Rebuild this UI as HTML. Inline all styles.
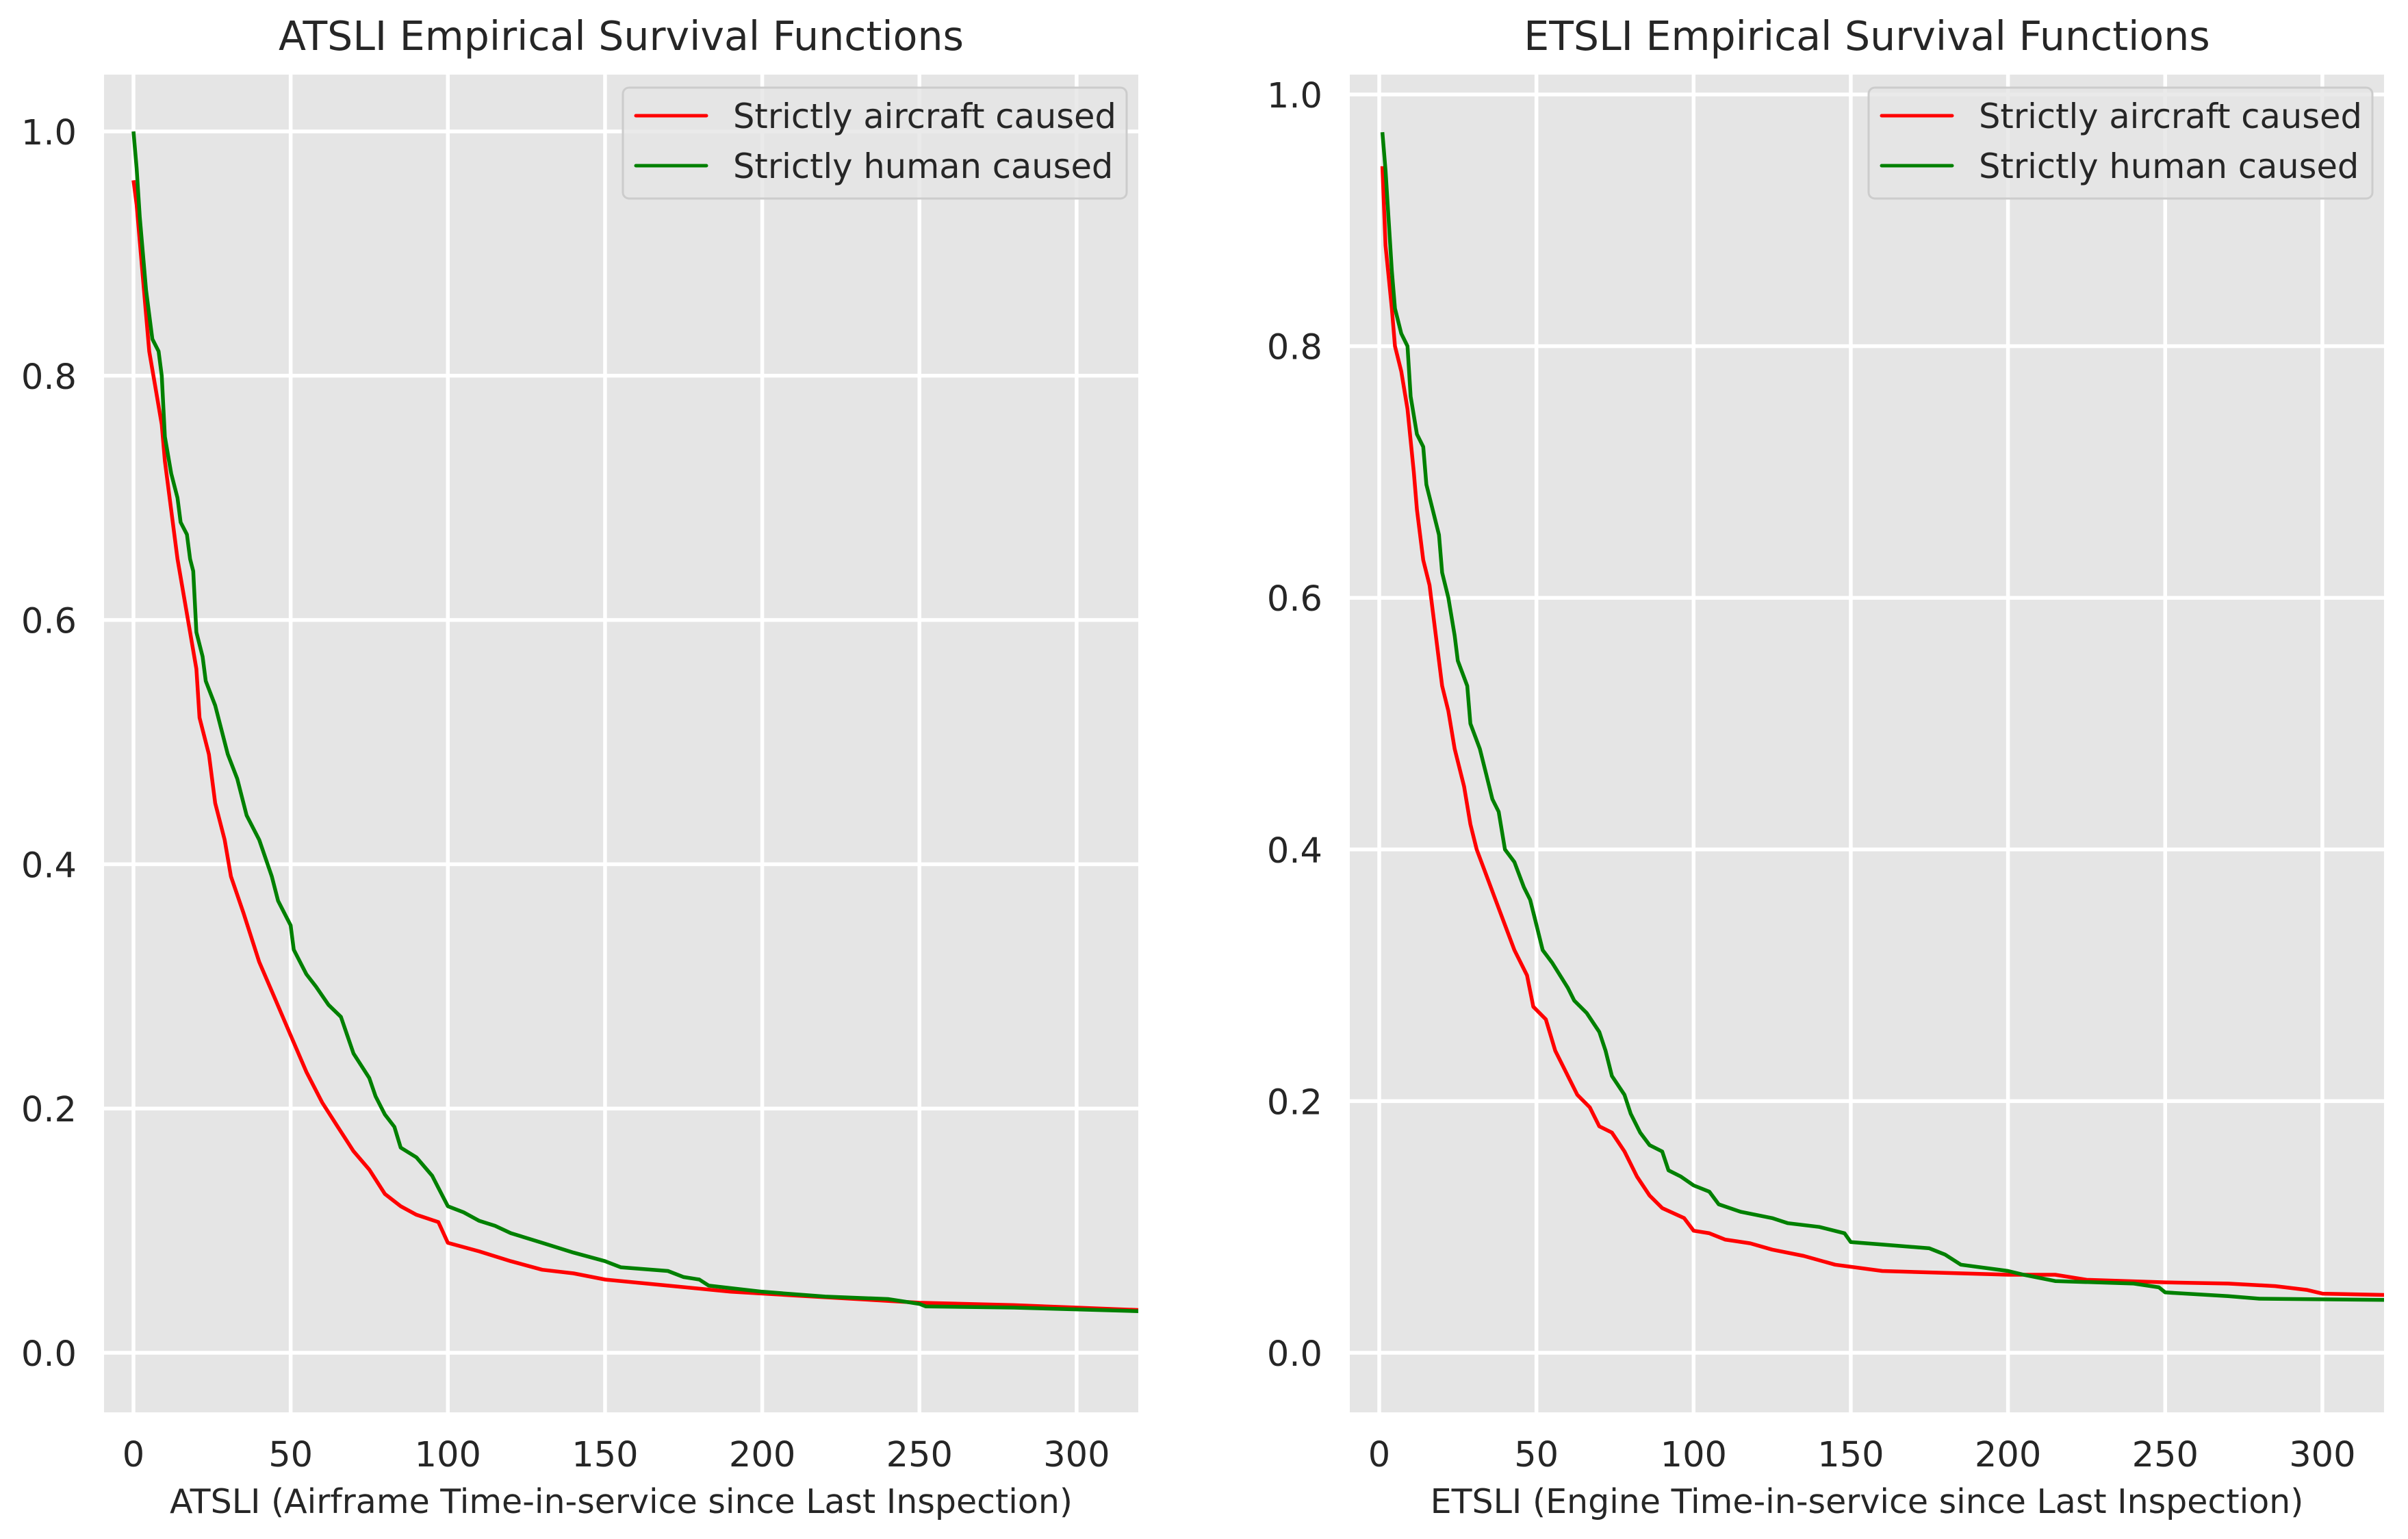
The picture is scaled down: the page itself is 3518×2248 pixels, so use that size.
<!DOCTYPE html>
<html><head><meta charset="utf-8"><style>
html,body{margin:0;padding:0;background:#fff;}
svg{display:block;font-family:"DejaVu Sans","Liberation Sans",sans-serif;}
</style></head><body>
<svg id="fig" width="3518" height="2248" viewBox="0 0 3518 2248" xmlns="http://www.w3.org/2000/svg"></svg>
<script>
const xTicks=[0,50,100,150,200,250,300];
const yTicks=[0.0,0.2,0.4,0.6,0.8,1.0];
const yTickLabels=["0.0","0.2","0.4","0.6","0.8","1.0"];
const seriesNames=["Strictly aircraft caused","Strictly human caused"];
const atsliRedX=[0,1,2,3,4,5,7,9,10,12,14,16,18,20,21,24,26,29,31,35,40,45,50,55,60,65,70,75,80,85,90,97,100,110,120,130,140,150,170,190,210,230,250,280,300,320];
const atsliRedY=[0.96,0.94,0.91,0.88,0.85,0.82,0.79,0.76,0.73,0.69,0.65,0.62,0.59,0.56,0.52,0.49,0.45,0.42,0.39,0.36,0.32,0.29,0.26,0.23,0.205,0.185,0.165,0.15,0.13,0.12,0.113,0.107,0.09,0.083,0.075,0.068,0.065,0.06,0.055,0.05,0.047,0.044,0.041,0.039,0.037,0.035];
const atsliGreenX=[0,1,2,3,4,5,6,8,9,10,12,14,15,17,18,19,20,22,23,26,28,30,33,36,40,44,46,50,51,55,58,62,66,68,70,75,77,80,83,85,90,95,100,105,110,115,120,130,140,150,155,170,175,180,183,200,220,240,250,252,280,320];
const atsliGreenY=[1.0,0.97,0.93,0.9,0.87,0.85,0.83,0.82,0.8,0.75,0.72,0.7,0.68,0.67,0.65,0.64,0.59,0.57,0.55,0.53,0.51,0.49,0.47,0.44,0.42,0.39,0.37,0.35,0.33,0.31,0.3,0.285,0.275,0.26,0.245,0.225,0.21,0.195,0.185,0.168,0.16,0.145,0.12,0.115,0.108,0.104,0.098,0.09,0.082,0.075,0.07,0.067,0.062,0.06,0.055,0.05,0.046,0.044,0.04,0.038,0.037,0.034];
const etsliRedX=[1,2,4,5,7,9,11,12,14,16,18,20,22,24,27,29,31,34,37,40,43,47,49,53,56,60,63,67,70,74,78,82,86,90,97,100,105,110,118,125,135,145,160,200,215,225,250,270,285,295,300,320];
const etsliRedY=[0.943,0.88,0.83,0.8,0.78,0.75,0.7,0.67,0.63,0.61,0.57,0.53,0.51,0.48,0.45,0.42,0.4,0.38,0.36,0.34,0.32,0.3,0.275,0.265,0.24,0.22,0.205,0.195,0.18,0.175,0.16,0.14,0.125,0.115,0.107,0.097,0.095,0.09,0.087,0.082,0.077,0.07,0.065,0.062,0.062,0.058,0.056,0.055,0.053,0.05,0.047,0.046];
const etsliGreenX=[1,2,3,4,5,7,9,10,12,14,15,17,19,20,22,24,25,28,29,32,34,36,38,40,43,46,48,50,52,55,60,62,66,70,72,74,78,80,83,86,90,92,96,100,105,108,115,125,130,140,148,150,160,175,180,185,200,205,215,240,248,250,270,280,320];
const etsliGreenY=[0.97,0.94,0.9,0.86,0.83,0.81,0.8,0.76,0.73,0.72,0.69,0.67,0.65,0.62,0.6,0.57,0.55,0.53,0.5,0.48,0.46,0.44,0.43,0.4,0.39,0.37,0.36,0.34,0.32,0.31,0.29,0.28,0.27,0.255,0.24,0.22,0.205,0.19,0.175,0.165,0.16,0.145,0.14,0.133,0.128,0.118,0.112,0.107,0.103,0.1,0.095,0.088,0.086,0.083,0.078,0.07,0.065,0.062,0.057,0.055,0.052,0.048,0.045,0.043,0.042];

const NS="http://www.w3.org/2000/svg";
const svg=document.getElementById('fig');
function mk(tag,attrs,parent){const e=document.createElementNS(NS,tag);for(const k in attrs)e.setAttribute(k,attrs[k]);(parent||svg).appendChild(e);return e;}

function panel(cfg){
  const g=mk('g',{});
  
  
  const xs=v=>cfg.x0+v*4.593;
  const ys=v=>cfg.y0-v*(cfg.y0-cfg.y1);
  const bg=mk('rect',{x:cfg.left,y:109,width:cfg.right-cfg.left,height:2063-109,fill:'#e5e5e5'},g);
  
  
  const clipId='clip-'+cfg.name;
  const cp=mk('clipPath',{id:clipId},g);
  mk('rect',{x:cfg.left,y:109,width:cfg.right-cfg.left,height:2063-109},cp);
  xTicks.forEach(t=>{
    const l=mk('line',{x1:xs(t),x2:xs(t),y1:109,y2:2063,stroke:'#fff','stroke-width':5.5},g);
    
    
    const tx=mk('text',{x:xs(t),y:2142,'font-size':51,fill:'#262626','text-anchor':'middle'},g);
    tx.textContent=t;
    
    
  });
  yTicks.forEach((t,i)=>{
    const l=mk('line',{x1:cfg.left,x2:cfg.right,y1:ys(t),y2:ys(t),stroke:'#fff','stroke-width':5.5},g);
    
    
    const tx=mk('text',{x:cfg.left-40,y:ys(t)+19,'font-size':51,fill:'#262626','text-anchor':'end'},g);
    tx.textContent=yTickLabels[i];
    
    
  });
  const series=[[cfg.rx,cfg.ry,'#ff0000','aircraft-caused-line'],[cfg.gx,cfg.gy,'#008000','human-caused-line']];
  series.forEach(s=>{
    const pts=s[0].map((x,i)=>xs(x).toFixed(1)+','+ys(s[1][i]).toFixed(1)).join(' ');
    const p=mk('polyline',{points:pts,fill:'none',stroke:s[2],'stroke-width':5.5,'stroke-linejoin':'round','clip-path':'url(#'+clipId+')'},g);
    
    
  });
  const title=mk('text',{x:(cfg.left+cfg.right)/2,y:73,'font-size':58.5,fill:'#262626','text-anchor':'middle'},g);
  title.textContent=cfg.title;
  
  
  const xl=mk('text',{x:(cfg.left+cfg.right)/2,y:2210,'font-size':49,fill:'#262626','text-anchor':'middle'},g);
  xl.textContent=cfg.xlabel;
  
  
  const lg=mk('g',{},g);
  
  
  const lx=cfg.right-753;
  mk('rect',{x:lx,y:128,width:736,height:162,rx:9,fill:'#e5e5e5','fill-opacity':0.8,stroke:'#cccccc','stroke-width':3},lg);
  [['#ff0000',169],['#008000',242]].forEach((c,i)=>{
    const e=mk('g',{},lg);
    
    
    mk('line',{x1:lx+19,x2:lx+122,y1:c[1],y2:c[1],stroke:c[0],'stroke-width':5,'stroke-linecap':'round'},e);
    const t=mk('text',{x:lx+161,y:c[1]+18,'font-size':49.5,fill:'#262626'},e);
    t.textContent=seriesNames[i];
  });
}
panel({name:'atsli',left:152,right:1663,x0:195,y1:192,y0:1976,title:'ATSLI Empirical Survival Functions',xlabel:'ATSLI (Airframe Time-in-service since Last Inspection)',rx:atsliRedX,ry:atsliRedY,gx:atsliGreenX,gy:atsliGreenY});
panel({name:'etsli',left:1972,right:3483,x0:2015,y1:138,y0:1976,title:'ETSLI Empirical Survival Functions',xlabel:'ETSLI (Engine Time-in-service since Last Inspection)',rx:etsliRedX,ry:etsliRedY,gx:etsliGreenX,gy:etsliGreenY});
</script>
</body></html>
